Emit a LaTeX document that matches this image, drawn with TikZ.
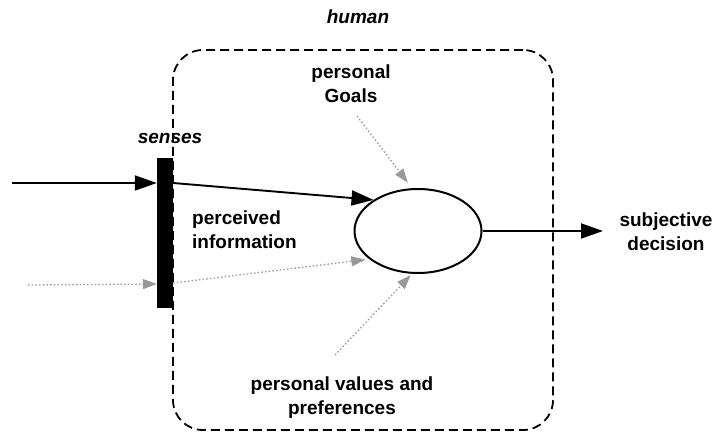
\documentclass[tikz,border=0pt]{standalone}
\usepackage{fontspec}
\setmainfont{Liberation Sans}
\usetikzlibrary{arrows.meta,shapes.geometric}
\begin{document}
\begin{tikzpicture}[x=1pt,y=-1pt,
  lbl/.style={font=\bfseries\fontsize{19}{24}\selectfont, align=center, inner sep=0pt},
  ital/.style={font=\bfseries\itshape\fontsize{19}{24}\selectfont, inner sep=0pt},
  flow/.style={line width=1.9pt, -{Triangle[length=22pt,width=15pt]}},
  soft/.style={draw=black!40, line width=1.3pt, dash pattern=on 1.5pt off 2.2pt,
    -{Triangle[length=14pt,width=10pt]}}]
\useasboundingbox (0,0) rectangle (715,433);

% the human boundary
\node[draw, line width=1.8pt, dash pattern=on 9pt off 5pt, rounded corners=30pt,
  minimum width=380pt, minimum height=380pt, inner sep=0pt] (human) at (363,240) {};
\node[ital] (humanlbl) at (358,17) {human};

% sense organ bar
\node[fill=black, minimum width=16pt, minimum height=150pt, inner sep=0pt] (bar) at (165,233) {};
\node[ital] (senseslbl) at (170,138) {senses};

% decision process
\node[draw, ellipse, line width=2pt, minimum width=127pt, minimum height=84pt, inner sep=0pt] (proc) at (418,231) {};

% labels
\node[lbl, align=left, anchor=west] (perc) at (192,230) {perceived\\information};
\node[lbl] (goals) at (351,84) {personal\\Goals};
\node[lbl] (values) at (342,398) {personal values and\\preferences};
\node[lbl] (decision) at (666,232) {subjective\\decision};

% coordinates for free ends
\coordinate (inA) at (12,183);
\coordinate (inB) at (28,285);
\coordinate (goalsTail) at (357,116);
\coordinate (valuesTail) at (335,355);
\coordinate (out) at (603,231);

% perceived inputs
\draw[flow] (inA) -- (inA -| bar.west);
\draw[flow] (inA -| bar.east) -- (proc.145);
\draw[soft] (inB) -- (bar.west |- 0,284);
\draw[soft, shorten >=4pt] (bar.east |- 0,283) -- (proc.210);

% personal influences
\draw[soft, shorten >=7pt] (goalsTail) -- (proc.98);
\draw[soft, shorten >=2pt] (valuesTail) -- (proc.262);

% decision output
\draw[flow] (proc.east) -- (out);
\end{tikzpicture}
\end{document}
